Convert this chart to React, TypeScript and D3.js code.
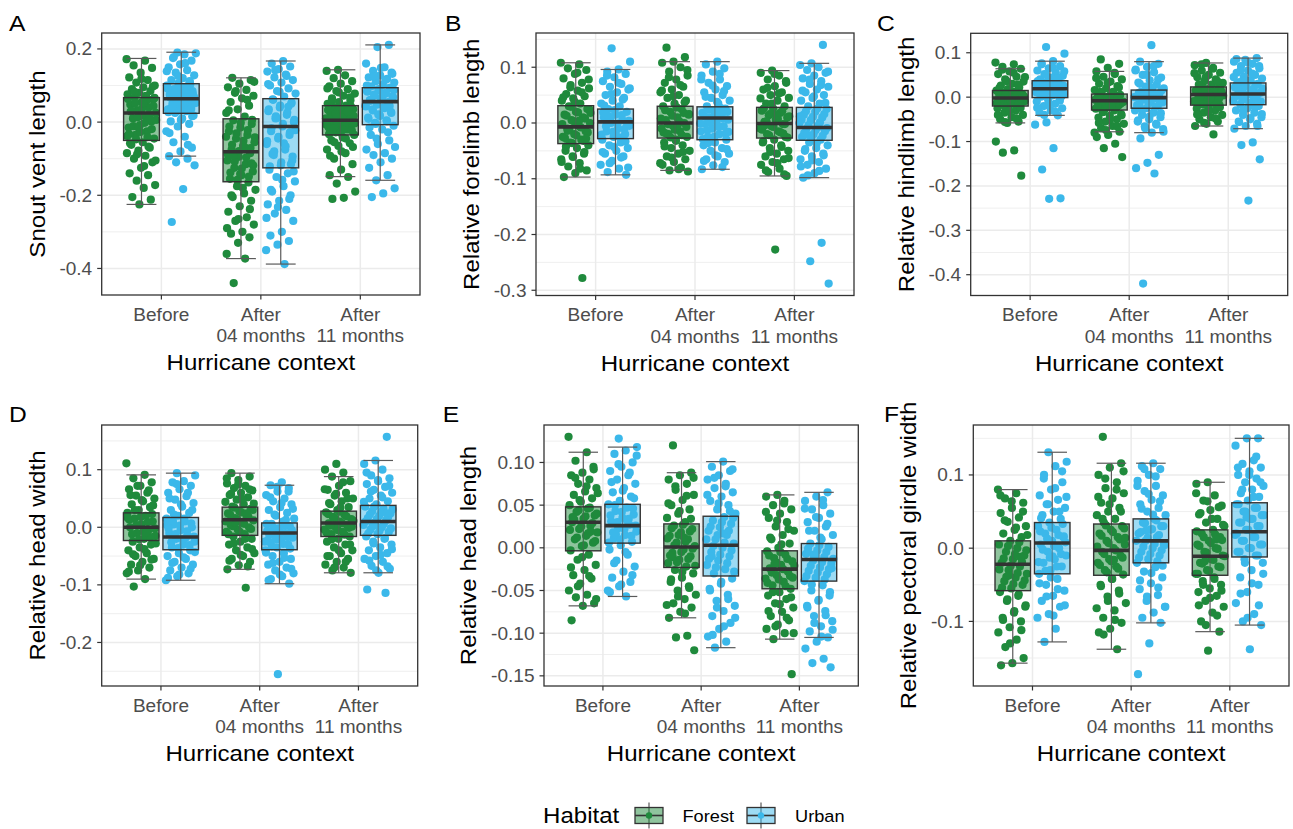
import React from "react";
import * as d3 from "d3";

// categories and groups
const contexts = [["Before"], ["After", "04 months"], ["After", "11 months"]];
const habitats = ["Forest", "Urban"];
const habitatColors = ["#1f8a3c", "#3bb8ea"];

// box stats per context: [lower whisker, q1, median, q3, upper whisker]
const snoutForestBox = [[-0.225, -0.05, 0.025, 0.067, 0.174], [-0.373, -0.163, -0.081, 0.009, 0.121], [-0.149, -0.035, 0.005, 0.045, 0.143]];
const snoutUrbanBox = [[-0.093, 0.024, 0.064, 0.105, 0.191], [-0.388, -0.125, -0.012, 0.064, 0.167], [-0.159, -0.007, 0.056, 0.094, 0.211]];
const foreForestBox = [[-0.097, -0.037, -0.007, 0.031, 0.108], [-0.085, -0.027, 0.0, 0.03, 0.11], [-0.095, -0.027, -0.001, 0.028, 0.094]];
const foreUrbanBox = [[-0.093, -0.028, 0.002, 0.025, 0.096], [-0.083, -0.03, 0.009, 0.029, 0.11], [-0.098, -0.031, -0.008, 0.028, 0.107]];
const hindForestBox = [[-0.058, -0.02, -0.002, 0.015, 0.064], [-0.078, -0.029, -0.008, 0.007, 0.058], [-0.065, -0.018, 0.006, 0.023, 0.077]];
const hindUrbanBox = [[-0.041, -0.001, 0.019, 0.037, 0.081], [-0.08, -0.025, -0.001, 0.016, 0.08], [-0.071, -0.017, 0.007, 0.032, 0.088]];
const headWForestBox = [[-0.09, -0.023, 0.0, 0.025, 0.091], [-0.073, -0.014, 0.013, 0.035, 0.094], [-0.079, -0.016, 0.0075, 0.028, 0.088]];
const headWUrbanBox = [[-0.092, -0.039, -0.017, 0.017, 0.094], [-0.098, -0.039, -0.01, 0.0075, 0.073], [-0.079, -0.014, 0.01, 0.038, 0.116]];
const headLForestBox = [[-0.068, -0.0035, 0.03, 0.048, 0.112], [-0.082, -0.023, 0.001, 0.028, 0.088], [-0.107, -0.048, -0.025, -0.0035, 0.062]];
const headLUrbanBox = [[-0.057, 0.0055, 0.026, 0.051, 0.118], [-0.117, -0.033, 0.003, 0.037, 0.101], [-0.105, -0.039, -0.0136, 0.005, 0.065]];
const girdleForestBox = [[-0.157, -0.058, -0.022, 0.01, 0.08], [-0.138, -0.037, -0.003, 0.033, 0.116], [-0.114, -0.037, -0.011, 0.025, 0.09]];
const girdleUrbanBox = [[-0.128, -0.035, 0.007, 0.035, 0.131], [-0.102, -0.02, 0.01, 0.04, 0.116], [-0.105, -0.012, 0.0225, 0.062, 0.15]];

const snoutForest = [
  [.172, .168, .155, .148, .135, .122, .115, .108, .1, .095, .09, .085, .08, .076, .072, .068, .062, .055, .048, .04, .032, .025, .018, .01, .002, -.008, -.015, -.025, -.035, -.045, -.055, -.062, -.07, -.078, -.085, -.092, -.1, -.11, -.125, -.14, -.145, -.16, -.172, -.18, -.205, -.212, -.225,
    .063, .058, .051, .044, .037, .029, .021, .013, .006, -.002, -.011, -.019, -.027, -.033, -.041, -.047, .066, .052, .031, .008, -.016, -.038, .071, .083, .097, .118, -.058, -.067, -.088, -.105, -.12],
  [.121, .115, .105, .095, .088, .08, .072, .065, .055, .045, .035, .025, .015, .005, -.005, -.015, -.025, -.035, -.045, -.055, -.065, -.075, -.085, -.095, -.105, -.115, -.125, -.135, -.145, -.155, -.165, -.175, -.185, -.195, -.205, -.215, -.23, -.245, -.26, -.27, -.28, -.3, -.305, -.315, -.33, -.36, -.373, -.44,
    .006, -.002, -.012, -.022, -.031, -.042, -.051, -.062, -.071, -.079, -.088, -.097, -.108, -.118, -.127, -.138, -.149, -.158, -.04, -.068, -.092, -.113, -.142, .032, .061, .085, .11, -.18, -.2, -.238, -.265, -.29],
  [.143, .14, .128, .12, .112, .105, .098, .09, .085, .078, .072, .065, .06, .055, .05, .045, .04, .035, .03, .025, .02, .015, .01, .005, 0, -.005, -.01, -.015, -.02, -.028, -.035, -.042, -.05, -.058, -.065, -.075, -.085, -.1, -.115, -.13, -.145, -.15, -.168, -.19, -.207, -.21,
    .043, .038, .033, .027, .022, .017, .012, .008, .003, -.002, -.007, -.012, -.018, -.023, -.029, -.033, .028, .014, -.004, -.021, .058, .068, .081, .092, -.045, -.055, -.068, -.08, -.092],
];
const snoutUrban = [
  [.19, .188, .185, .175, .168, .158, .15, .142, .135, .128, .12, .115, .11, .106, .1, .095, .09, .085, .08, .075, .07, .065, .06, .055, .05, .045, .04, .035, .03, .025, .018, .01, .002, -.005, -.012, -.025, -.04, -.055, -.07, -.08, -.093, -.1, -.11, -.118, -.183, -.273,
    .102, .097, .092, .087, .081, .077, .071, .067, .062, .058, .052, .047, .042, .036, .031, .027, .098, .083, .069, .054, .038, .112, .126, .139, .161, .178, .016, .006, -.03, -.062],
  [.167, .16, .152, .145, .138, .13, .122, .115, .108, .1, .092, .085, .078, .07, .062, .05, .04, .03, .02, .01, 0, -.012, -.025, -.035, -.045, -.06, -.075, -.09, -.105, -.118, -.13, -.14, -.15, -.162, -.175, -.19, -.2, -.215, -.225, -.24, -.25, -.27, -.3, -.31, -.325, -.335, -.35, -.388,
    .061, .053, .045, .035, .026, .016, .006, -.005, -.017, -.028, -.04, -.052, -.066, -.08, -.094, -.11, -.121, .042, .011, -.022, -.058, -.087, -.115, .083, .104, .126, .142, -.135, -.158, -.185, -.21, -.232, -.262],
  [.211, .205, .16, .15, .14, .135, .128, .122, .118, .112, .108, .102, .098, .094, .09, .085, .08, .075, .07, .065, .06, .055, .05, .045, .04, .035, .028, .02, .012, .005, -.002, -.01, -.02, -.035, -.05, -.06, -.075, -.085, -.09, -.1, -.11, -.125, -.145, -.159, -.181, -.195, -.205,
    .092, .087, .083, .078, .073, .068, .063, .058, .053, .048, .043, .038, .032, .025, .017, .009, .002, -.005, .088, .071, .061, .044, .021, .1, .115, .125, .132, .148, -.015, -.028, -.045, -.068],
];
const foreForest = [
  [.108, .105, .098, .095, .088, .08, .072, .068, .062, .058, .052, .048, .044, .04, .035, .03, .025, .02, .015, .01, .005, 0, -.005, -.01, -.015, -.02, -.025, -.03, -.035, -.04, -.045, -.05, -.055, -.06, -.065, -.072, -.078, -.085, -.09, -.097, -.278,
    .029, .024, .019, .013, .008, .003, -.002, -.008, -.012, -.017, -.022, -.027, -.032, -.036, .018, .004, -.014, -.028, .038, .046, .055, .064, .078, .09, -.042, -.052, -.061, -.07, -.082],
  [.135, .118, .11, .108, .1, .092, .085, .078, .072, .065, .06, .055, .05, .045, .04, .035, .03, .025, .02, .015, .01, .005, 0, -.005, -.01, -.015, -.02, -.025, -.03, -.035, -.04, -.045, -.05, -.055, -.06, -.065, -.07, -.075, -.08, -.085, -.087,
    .028, .023, .018, .013, .008, .003, -.002, -.007, -.012, -.017, -.022, -.026, .016, -.004, -.019, .037, .048, .058, .068, .082, .095, -.032, -.042, -.052, -.062, -.072, -.083],
  [.094, .09, .085, .078, .072, .066, .06, .055, .05, .045, .04, .035, .03, .026, .022, .018, .014, .01, .006, .002, -.002, -.006, -.01, -.015, -.02, -.025, -.03, -.035, -.04, -.045, -.05, -.055, -.06, -.065, -.07, -.075, -.082, -.088, -.095, -.227,
    .026, .021, .017, .012, .007, .003, -.002, -.007, -.012, -.017, -.022, -.026, .014, -.004, -.019, .035, .044, .053, .063, .075, .088, -.033, -.043, -.052, -.063, -.072, -.085, -.092],
];
const foreUrban = [
  [.134, .11, .096, .092, .088, .082, .075, .07, .065, .06, .055, .05, .045, .04, .035, .03, .025, .02, .015, .01, .005, 0, -.005, -.01, -.015, -.02, -.025, -.03, -.035, -.04, -.045, -.05, -.055, -.06, -.068, -.075, -.082, -.088, -.093,
    .023, .019, .014, .009, .004, -.001, -.006, -.011, -.016, -.021, -.026, .012, -.003, -.018, .031, .042, .052, .062, .072, .085, -.033, -.043, -.052, -.062, -.072, -.08],
  [.11, .105, .098, .092, .085, .078, .072, .066, .06, .055, .05, .045, .04, .035, .03, .026, .022, .018, .014, .01, .006, .002, -.002, -.006, -.01, -.015, -.02, -.025, -.03, -.035, -.04, -.045, -.05, -.055, -.06, -.065, -.07, -.076, -.083,
    .027, .024, .02, .016, .012, .008, .004, -.001, -.007, -.013, -.019, -.025, -.029, .018, .001, -.016, .038, .047, .057, .067, .078, .088, -.036, -.047, -.058, -.068, -.079],
  [.14, .107, .104, .1, .095, .09, .085, .08, .075, .07, .065, .06, .055, .05, .045, .04, .035, .03, .025, .02, .015, .01, .005, 0, -.005, -.01, -.015, -.02, -.025, -.03, -.035, -.04, -.045, -.05, -.055, -.06, -.065, -.07, -.075, -.082, -.09, -.098, -.215, -.248, -.288,
    .026, .021, .016, .011, .006, .001, -.004, -.009, -.013, -.018, -.023, -.028, .012, -.007, -.021, .036, .048, .058, .068, .078, .092, -.037, -.047, -.058, -.067, -.078, -.086, -.094],
];
const hindForest = [
  [.078, .074, .068, .064, .058, .052, .046, .04, .035, .03, .026, .022, .018, .015, .012, .009, .006, .003, 0, -.003, -.006, -.009, -.012, -.015, -.018, -.021, -.025, -.03, -.035, -.04, -.045, -.05, -.055, -.058, -.1, -.12, -.125, -.177,
    .014, .011, .008, .005, .002, -.001, -.004, -.007, -.01, -.013, -.016, -.019, .007, -.009, .021, .028, .036, .045, .055, .062, -.024, -.032, -.04, -.048, -.056],
  [.085, .075, .066, .058, .052, .046, .04, .035, .03, .025, .02, .016, .012, .008, .005, .002, -.001, -.004, -.007, -.01, -.013, -.016, -.019, -.022, -.026, -.03, -.034, -.038, -.042, -.046, -.05, -.055, -.06, -.065, -.07, -.078, -.085, -.09, -.105, -.115, -.135,
    .006, .003, 0, -.003, -.006, -.009, -.012, -.015, -.018, -.021, -.024, -.027, -.011, -.02, .012, .022, .032, .043, .055, -.033, -.041, -.05, -.058, -.066, -.074, -.08],
  [.077, .072, .066, .06, .055, .05, .045, .04, .036, .032, .028, .024, .021, .018, .015, .012, .009, .006, .003, 0, -.003, -.006, -.009, -.012, -.015, -.018, -.022, -.026, -.03, -.035, -.04, -.045, -.05, -.055, -.06, -.065, -.084,
    .022, .019, .016, .013, .01, .007, .004, .001, -.002, -.005, -.008, -.011, -.014, -.017, .012, -.003, .028, .036, .045, .054, .064, .074, -.023, -.031, -.039, -.048, -.058],
];
const hindUrban = [
  [.113, .098, .081, .076, .07, .065, .06, .056, .052, .048, .044, .04, .037, .034, .031, .028, .025, .022, .019, .016, .013, .01, .007, .004, .001, -.002, -.006, -.01, -.015, -.02, -.025, -.03, -.035, -.041, -.057, -.062, -.115, -.163, -.228, -.229,
    .036, .033, .029, .026, .023, .02, .017, .014, .011, .008, .005, .002, .024, .009, .043, .05, .058, .066, .074, -.008, -.016, -.024, -.033, -.04],
  [.117, .08, .075, .068, .062, .056, .05, .044, .038, .033, .028, .024, .02, .016, .012, .008, .004, .001, -.002, -.005, -.008, -.012, -.016, -.02, -.025, -.03, -.035, -.04, -.045, -.05, -.055, -.06, -.066, -.072, -.08, -.093, -.13, -.148, -.16, -.172, -.42,
    .015, .012, .009, .006, .003, 0, -.003, -.006, -.01, -.014, -.018, -.022, .007, -.012, .022, .03, .04, .05, .06, .07, -.028, -.036, -.044, -.052, -.062, -.07, -.078],
  [.088, .084, .08, .075, .07, .065, .06, .055, .05, .046, .042, .038, .034, .03, .026, .022, .018, .014, .01, .007, .004, 0, -.004, -.008, -.012, -.016, -.02, -.025, -.03, -.035, -.04, -.045, -.05, -.055, -.06, -.065, -.071, -.102, -.108, -.14, -.233,
    .03, .027, .023, .019, .015, .011, .008, .005, .002, -.002, -.006, -.01, -.014, .017, -.004, .038, .045, .053, .061, .07, .078, .086, -.022, -.03, -.038, -.047, -.056, -.065],
];
const headWForest = [
  [.111, .091, .085, .078, .072, .066, .06, .055, .05, .045, .04, .035, .03, .025, .02, .015, .01, .005, 0, -.005, -.01, -.015, -.02, -.025, -.03, -.035, -.04, -.045, -.05, -.055, -.06, -.065, -.07, -.075, -.08, -.09, -.103,
    .023, .018, .013, .009, .004, -.002, -.007, -.012, -.017, -.021, .016, -.009, .03, .038, .047, .056, .064, .072, -.028, -.038, -.047, -.056, -.066, -.077],
  [.094, .088, .082, .076, .072, .068, .064, .06, .056, .052, .048, .044, .04, .036, .032, .028, .024, .02, .016, .012, .008, .004, 0, -.004, -.008, -.012, -.016, -.02, -.025, -.03, -.035, -.04, -.045, -.05, -.055, -.06, -.066, -.073, -.105,
    .034, .03, .026, .022, .018, .014, .01, .006, .002, -.003, -.008, -.012, .024, .008, .041, .049, .058, .066, .074, .085, -.02, -.028, -.038, -.048, -.058, -.068],
  [.11, .1, .095, .088, .08, .072, .065, .06, .055, .05, .045, .04, .035, .03, .026, .022, .018, .014, .01, .007, .004, 0, -.004, -.008, -.012, -.016, -.02, -.025, -.03, -.035, -.04, -.045, -.05, -.055, -.06, -.065, -.07, -.075, -.079,
    .027, .023, .019, .015, .011, .007, .003, -.001, -.005, -.009, -.013, .017, .001, .034, .042, .05, .058, .066, .078, -.021, -.03, -.04, -.05, -.06, -.07],
];
const headWUrban = [
  [.094, .09, .08, .078, .072, .066, .06, .054, .048, .042, .036, .03, .025, .02, .015, .01, .005, 0, -.005, -.01, -.015, -.02, -.025, -.03, -.035, -.04, -.045, -.05, -.055, -.06, -.065, -.07, -.075, -.08, -.085, -.092,
    .015, .011, .007, .003, -.002, -.007, -.012, -.016, -.021, -.026, -.031, -.036, .004, -.019, .022, .03, .04, .05, .06, .075, -.043, -.052, -.062, -.072, -.082, -.088],
  [.078, .073, .068, .062, .056, .05, .045, .04, .035, .03, .025, .02, .015, .01, .006, .002, -.002, -.006, -.01, -.014, -.018, -.022, -.026, -.03, -.035, -.04, -.045, -.05, -.055, -.06, -.065, -.07, -.075, -.08, -.085, -.09, -.098, -.255,
    .006, .003, -.001, -.005, -.009, -.013, -.017, -.021, -.025, -.029, -.033, -.037, -.007, -.023, .013, .022, .032, .042, .052, .062, .07, -.044, -.053, -.062, -.072, -.082, -.092],
  [.157, .116, .11, .1, .09, .085, .08, .075, .07, .065, .06, .055, .05, .045, .04, .036, .032, .028, .024, .02, .016, .012, .008, .004, 0, -.004, -.008, -.012, -.016, -.02, -.025, -.03, -.035, -.04, -.045, -.05, -.055, -.06, -.067, -.072, -.079, -.108, -.114,
    .036, .031, .027, .022, .018, .014, .01, .006, .002, -.002, -.006, -.011, .024, .004, .044, .052, .062, .072, .082, .095, -.019, -.028, -.038, -.048, -.058, -.068, -.075],
];
const headLForest = [
  [.13, .112, .102, .092, .088, .085, .08, .075, .07, .066, .062, .058, .054, .05, .046, .042, .038, .034, .03, .026, .022, .018, .014, .01, .006, .002, -.003, -.008, -.014, -.02, -.026, -.032, -.036, -.042, -.05, -.055, -.058, -.065, -.068, -.085,
    .047, .044, .04, .037, .033, .029, .025, .021, .017, .012, .008, .003, .036, .019, .056, .064, .072, .082, .095, -.011, -.023, -.033, -.045, -.06],
  [.12, .088, .085, .08, .075, .068, .062, .056, .05, .045, .04, .035, .03, .026, .022, .018, .014, .01, .006, .002, -.002, -.006, -.01, -.014, -.018, -.022, -.026, -.03, -.035, -.04, -.045, -.05, -.055, -.06, -.065, -.07, -.075, -.082, -.103, -.105, -.12,
    .027, .023, .019, .015, .011, .007, .003, -.001, -.005, -.009, -.013, -.017, -.021, .012, -.011, .034, .043, .052, .061, .072, .082, -.028, -.037, -.047, -.057, -.067, -.077],
  [.062, .06, .055, .05, .045, .04, .035, .03, .025, .02, .015, .01, .005, 0, -.004, -.008, -.012, -.016, -.02, -.024, -.028, -.032, -.036, -.04, -.044, -.048, -.052, -.056, -.06, -.065, -.07, -.075, -.08, -.085, -.09, -.095, -.1, -.107, -.148,
    -.005, -.009, -.013, -.017, -.021, -.025, -.029, -.033, -.037, -.041, -.045, -.019, -.035, .004, .012, .022, .032, .042, .052, -.052, -.058, -.066, -.074, -.082, -.092, -.1],
];
const headLUrban = [
  [.128, .118, .114, .11, .1, .095, .09, .085, .08, .075, .07, .065, .06, .055, .051, .047, .043, .039, .035, .031, .027, .023, .019, .015, .011, .007, .003, -.002, -.008, -.015, -.022, -.028, -.035, -.04, -.045, -.05, -.057,
    .05, .046, .042, .038, .034, .03, .026, .022, .018, .014, .01, .006, .032, .016, .058, .067, .077, .088, .098, .108, -.005, -.018, -.032, -.043, -.052],
  [.101, .095, .09, .085, .08, .075, .07, .065, .06, .055, .05, .045, .04, .036, .032, .028, .024, .02, .015, .01, .005, 0, -.005, -.01, -.015, -.02, -.025, -.03, -.036, -.042, -.048, -.055, -.062, -.068, -.074, -.08, -.088, -.095, -.104, -.11, -.117,
    .035, .03, .025, .02, .015, .01, .006, .002, -.003, -.008, -.013, -.018, -.023, -.028, .017, -.01, .043, .052, .062, .072, .082, .092, -.04, -.05, -.06, -.07, -.082, -.092, -.102],
  [.065, .06, .055, .05, .045, .04, .035, .03, .025, .02, .015, .01, .005, .001, -.003, -.007, -.011, -.015, -.019, -.023, -.027, -.031, -.035, -.039, -.044, -.05, -.056, -.062, -.068, -.074, -.08, -.086, -.092, -.098, -.105, -.11, -.118, -.13, -.135, -.14,
    .003, -.001, -.005, -.009, -.013, -.017, -.021, -.025, -.029, -.033, -.037, -.008, -.024, .012, .02, .028, .036, .046, .056, -.043, -.052, -.061, -.07, -.079, -.088, -.096, -.104],
];
const girdleForest = [
  [.08, .075, .068, .062, .055, .048, .042, .036, .03, .025, .02, .015, .01, .005, 0, -.005, -.01, -.015, -.02, -.025, -.03, -.035, -.04, -.045, -.05, -.055, -.06, -.065, -.072, -.08, -.088, -.095, -.1, -.108, -.115, -.125, -.135, -.15, -.157, -.16,
    .008, .003, -.003, -.008, -.014, -.019, -.024, -.029, -.034, -.039, -.044, -.049, -.054, -.012, -.037, .018, .028, .038, .05, .064, .072, -.063, -.07, -.078, -.086, -.098, -.112, -.13],
  [.152, .116, .11, .1, .09, .082, .075, .068, .062, .055, .05, .045, .04, .035, .03, .025, .02, .015, .01, .005, 0, -.005, -.01, -.015, -.02, -.025, -.03, -.036, -.042, -.05, -.058, -.066, -.075, -.085, -.095, -.102, -.11, -.115, -.138,
    .031, .027, .022, .017, .012, .007, .002, -.003, -.008, -.013, -.018, -.023, -.028, -.033, .014, -.016, .04, .05, .06, .07, .08, .095, .105, -.042, -.052, -.062, -.072, -.082, -.098, -.118],
  [.09, .088, .072, .065, .058, .052, .046, .04, .035, .03, .025, .02, .015, .01, .005, 0, -.005, -.01, -.015, -.02, -.025, -.03, -.035, -.04, -.045, -.05, -.055, -.06, -.065, -.072, -.08, -.088, -.1, -.114, -.14,
    .023, .019, .015, .011, .007, .003, -.001, -.006, -.011, -.016, -.021, -.026, -.031, -.035, .012, -.018, .032, .04, .048, .056, .064, .075, -.042, -.05, -.058, -.068, -.078, -.092, -.105],
];
const girdleUrban = [
  [.131, .118, .112, .1, .09, .08, .072, .066, .06, .055, .05, .045, .04, .035, .03, .025, .02, .015, .01, .005, 0, -.005, -.01, -.015, -.02, -.025, -.03, -.035, -.042, -.05, -.058, -.065, -.072, -.08, -.09, -.095, -.11, -.128,
    .033, .028, .023, .018, .013, .008, .003, -.002, -.008, -.013, -.019, -.025, -.031, .016, -.011, .041, .05, .06, .07, .082, .095, .105, -.04, -.048, -.056, -.066, -.078, -.092],
  [.116, .112, .108, .1, .092, .085, .078, .072, .066, .06, .055, .05, .045, .04, .035, .03, .025, .02, .015, .01, .005, 0, -.005, -.01, -.015, -.02, -.026, -.032, -.04, -.048, -.056, -.064, -.072, -.08, -.088, -.095, -.102, -.13, -.172,
    .038, .034, .03, .026, .022, .018, .014, .01, .006, .002, -.003, -.008, -.013, -.018, .024, .004, .046, .054, .064, .074, .085, .098, .108, -.024, -.034, -.044, -.054, -.066, -.08],
  [.15, .15, .14, .12, .115, .11, .105, .1, .095, .09, .085, .08, .075, .07, .065, .06, .055, .05, .045, .04, .035, .03, .025, .02, .015, .01, .005, 0, -.005, -.01, -.015, -.02, -.03, -.04, -.05, -.06, -.075, -.09, -.1, -.105, -.138,
    .06, .055, .05, .045, .04, .035, .03, .025, .02, .015, .01, .005, 0, -.005, -.01, .042, .018, .07, .08, .09, .1, .11, .125, -.02, -.035, -.048, -.062, -.078, -.095],
];

// y tick values per panel
const snoutTicks = [-0.4, -0.2, 0, 0.2];
const foreTicks = [-0.3, -0.2, -0.1, 0, 0.1];
const hindTicks = [-0.4, -0.3, -0.2, -0.1, 0, 0.1];
const headWTicks = [-0.2, -0.1, 0, 0.1];
const headLTicks = [-0.15, -0.1, -0.05, 0, 0.05, 0.1];
const girdleTicks = [-0.1, 0, 0.1];

const FONT = "'Liberation Sans', Arial, Helvetica, sans-serif";
const SX = 1.12; // horizontal stretch of the glyphs in the source render

// panel layout: plot-area box, y-title baseline x, tag position
const panels = [
  { tag: "A", title: "Snout vent length", forest: snoutForest, urban: snoutUrban, fBox: snoutForestBox, uBox: snoutUrbanBox, ticks: snoutTicks, fmt: ".1f", box: [101.7, 33, 420, 295], titleX: 45, tagXY: [9, 30.7] },
  { tag: "B", title: "Relative forelimb length", forest: foreForest, urban: foreUrban, fBox: foreForestBox, uBox: foreUrbanBox, ticks: foreTicks, fmt: ".1f", box: [536, 33, 854, 295.5], titleX: 479, tagXY: [445, 30.7] },
  { tag: "C", title: "Relative hindlimb length", forest: hindForest, urban: hindUrban, fBox: hindForestBox, uBox: hindUrbanBox, ticks: hindTicks, fmt: ".1f", box: [970.7, 33.3, 1287.7, 295.5], titleX: 914, tagXY: [877, 30.7] },
  { tag: "D", title: "Relative head width", forest: headWForest, urban: headWUrban, fBox: headWForestBox, uBox: headWUrbanBox, ticks: headWTicks, fmt: ".1f", box: [101.7, 425, 417.7, 686], titleX: 45, tagXY: [9, 421.7] },
  { tag: "E", title: "Relative head length", forest: headLForest, urban: headLUrban, fBox: headLForestBox, uBox: headLUrbanBox, ticks: headLTicks, fmt: ".2f", box: [544, 425, 858.3, 686], titleX: 476, tagXY: [442.7, 421.7] },
  { tag: "F", title: "Relative pectoral girdle width", forest: girdleForest, urban: girdleUrban, fBox: girdleForestBox, uBox: girdleUrbanBox, ticks: girdleTicks, fmt: ".1f", box: [973.3, 425, 1289, 686], titleX: 916, tagXY: [884, 421.7] },
];

function Txt({ x, y, rot = 0, anchor = "start", size, fill = "#000", sx = SX, dy = 0, children }: any) {
  return (
    <text
      transform={`translate(${x},${y}) rotate(${rot}) scale(${sx},1)`}
      dy={dy}
      textAnchor={anchor}
      fontSize={size}
      fill={fill}
      fontFamily={FONT}
    >
      {children}
    </text>
  );
}

function Panel({ p }: any) {
  const [x0, y0, x1, y1] = p.box;
  const all = [...p.forest.flat(), ...p.urban.flat()];
  const lo = d3.min(all) as number;
  const hi = d3.max(all) as number;
  const pad = (hi - lo) * 0.05;
  const y = d3.scaleLinear().domain([lo - pad, hi + pad]).range([y1, y0]);
  const x = d3.scalePoint<number>().domain([0, 1, 2]).range([x0, x1]).padding(0.6);
  const step = x.step();
  const fmt = (v: number) => d3.format(p.fmt)(v).replace("\u2212", "-");

  const ticks: number[] = p.ticks;
  const gap = ticks[1] - ticks[0];
  const minor = [ticks[0] - gap / 2, ...ticks.map((t: number) => t + gap / 2)].filter(
    (v) => v > y.domain()[0] && v < y.domain()[1]
  );

  const groups = [
    { vals: p.forest, stats: p.fBox, color: habitatColors[0], off: -0.2 },
    { vals: p.urban, stats: p.uBox, color: habitatColors[1], off: 0.2 },
  ];
  const boxW = step * 0.36;
  const capW = step * 0.3;
  const jitW = step * 0.3;

  return (
    <g>
      <rect x={x0} y={y0} width={x1 - x0} height={y1 - y0} fill="#fff" />
      {minor.map((v, i) => (
        <line key={"mn" + i} x1={x0} x2={x1} y1={y(v)} y2={y(v)} stroke="#ebebeb" strokeWidth={0.8} />
      ))}
      {ticks.map((v, i) => (
        <line key={"mj" + i} x1={x0} x2={x1} y1={y(v)} y2={y(v)} stroke="#ebebeb" strokeWidth={1.5} />
      ))}
      {[0, 1, 2].map((c) => (
        <line key={"vx" + c} x1={x(c)} x2={x(c)} y1={y0} y2={y1} stroke="#ebebeb" strokeWidth={1.5} />
      ))}
      {/* jittered points */}
      {groups.map((g, gi) =>
        g.vals.map((vals: number[], c: number) =>
          vals.map((v, i) => {
            const frac = (i * 0.6180339887 + gi * 0.37 + c * 0.21) % 1;
            const cx = (x(c) as number) + g.off * step + (frac - 0.5) * jitW;
            return <circle key={`p${gi}-${c}-${i}`} cx={cx} cy={y(v)} r={4.1} fill={g.color} />;
          })
        )
      )}
      {/* error bars + boxes */}
      {groups.map((g, gi) =>
        g.stats.map((s: number[], c: number) => {
          const cx = (x(c) as number) + g.off * step;
          return (
            <g key={`b${gi}-${c}`}>
              <line x1={cx} x2={cx} y1={y(s[0])} y2={y(s[4])} stroke="#5a5a5a" strokeWidth={1.2} />
              <line x1={cx - capW / 2} x2={cx + capW / 2} y1={y(s[0])} y2={y(s[0])} stroke="#5a5a5a" strokeWidth={1.2} />
              <line x1={cx - capW / 2} x2={cx + capW / 2} y1={y(s[4])} y2={y(s[4])} stroke="#5a5a5a" strokeWidth={1.2} />
              <rect
                x={cx - boxW / 2}
                y={y(s[3])}
                width={boxW}
                height={y(s[1]) - y(s[3])}
                fill={g.color}
                fillOpacity={0.5}
                stroke="#333"
                strokeWidth={1.4}
              />
              <line x1={cx - boxW / 2} x2={cx + boxW / 2} y1={y(s[2])} y2={y(s[2])} stroke="#333" strokeWidth={3.6} />
            </g>
          );
        })
      )}
      <rect x={x0} y={y0} width={x1 - x0} height={y1 - y0} fill="none" stroke="#333" strokeWidth={1.3} />
      {/* y axis */}
      {ticks.map((v, i) => (
        <g key={"yt" + i}>
          <line x1={x0 - 4.5} x2={x0} y1={y(v)} y2={y(v)} stroke="#333" strokeWidth={1.2} />
          <Txt x={x0 - 9.5} y={y(v)} dy="0.36em" anchor="end" size={17.8} fill="#4d4d4d" sx={1.07}>
            {fmt(v)}
          </Txt>
        </g>
      ))}
      {/* x axis */}
      {contexts.map((lines, c) => (
        <g key={"xt" + c}>
          <line x1={x(c)} x2={x(c)} y1={y1} y2={y1 + 4.5} stroke="#333" strokeWidth={1.2} />
          {lines.map((t, li) => (
            <Txt key={li} x={x(c)} y={y1 + 25.7 + li * 21.6} anchor="middle" size={17.8} fill="#4d4d4d" sx={1.07}>
              {t}
            </Txt>
          ))}
        </g>
      ))}
      <Txt x={(x0 + x1) / 2} y={y1 + 75} anchor="middle" size={21.5}>
        Hurricane context
      </Txt>
      <Txt x={p.titleX} y={(y0 + y1) / 2} rot={-90} anchor="middle" size={21.5}>
        {p.title}
      </Txt>
      <Txt x={p.tagXY[0]} y={p.tagXY[1]} size={22}>
        {p.tag}
      </Txt>
    </g>
  );
}

function LegendKey({ x, cy, color }: any) {
  const w = 28;
  return (
    <g>
      <line x1={x + w / 2} x2={x + w / 2} y1={cy - 13} y2={cy + 13} stroke="#5a5a5a" strokeWidth={1.2} />
      <rect x={x} y={cy - 8} width={w} height={16} fill={color} fillOpacity={0.5} stroke="#333" strokeWidth={1.3} />
      <line x1={x} x2={x + w} y1={cy} y2={cy} stroke="#333" strokeWidth={1.6} />
      <circle cx={x + w / 2} cy={cy} r={3.2} fill={color} />
    </g>
  );
}

export default function App() {
  const legendY = 815.5;
  const keyX = [635, 747];
  const labelX = [682.5, 795];
  return (
    <svg
      width={1293}
      height={829}
      style={{ position: "absolute", left: 0, top: 0, display: "block", background: "#fff" }}
    >
      <rect width={1293} height={829} fill="#fff" />
      {panels.map((p) => (
        <Panel key={p.tag} p={p} />
      ))}
      <Txt x={543} y={legendY + 7.6} size={21.5}>
        Habitat
      </Txt>
      {habitats.map((h, i) => (
        <g key={h}>
          <LegendKey x={keyX[i]} cy={legendY} color={habitatColors[i]} />
          <Txt x={labelX[i]} y={legendY + 6.3} size={17} sx={1.07}>
            {h}
          </Txt>
        </g>
      ))}
    </svg>
  );
}
